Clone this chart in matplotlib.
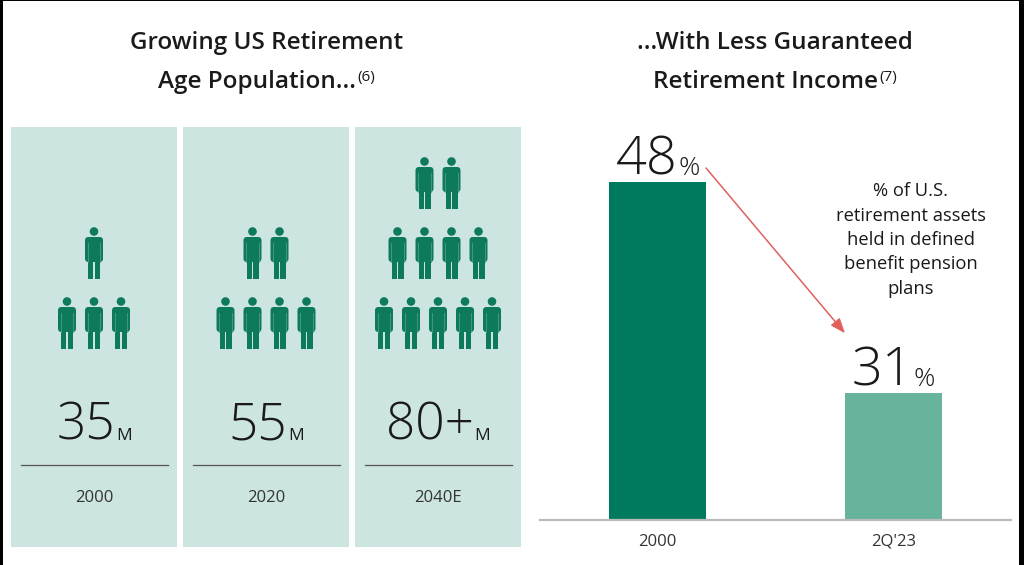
import matplotlib
matplotlib.use("Agg")
import matplotlib.pyplot as plt
from matplotlib import transforms
from matplotlib.patches import Rectangle, Circle, FancyBboxPatch

plt.rcParams['font.family'] = ['Open Sans', 'DejaVu Sans']

# --- data ---
years = ["2000", "2020", "2040E"]
pop_values = ["35", "55", "80+"]
people_rows = [[3, 1], [4, 2], [5, 4, 2]]   # icons per row, bottom row first

bar_labels = ["2000", "2Q'23"]
pct_values = [48, 31]
note = "% of U.S.\nretirement assets\nheld in defined\nbenefit pension\nplans"

# --- colours ---
panel_col = "#cde5e0"
icon_col = "#0d7a5c"
bar_cols = ["#007a5e", "#67b39c"]
arrow_col = "#e06060"
text_col = "#1a1a1a"
label_col = "#333333"

W, H = 1024, 565
fig = plt.figure(figsize=(W / 100, H / 100), dpi=100)
fig.patch.set_facecolor("white")
bg = fig.add_axes([0, 0, 1, 1])
bg.set_xlim(0, W)
bg.set_ylim(H, 0)
bg.axis("off")
renderer = fig.canvas.get_renderer()


def pair_text(ax, x, y, big, small, bsize, ssize, trans, dy=0, rise=0,
              bweight="normal", sweight="normal", gap=0):
    # big text followed by a smaller one, centred as a group on x
    t1 = ax.text(x, y, big, fontsize=bsize, ha="right", va="baseline",
                 fontweight=bweight, color=text_col, transform=trans)
    t2 = ax.text(x, y, small, fontsize=ssize, ha="left", va="baseline",
                 fontweight=sweight, color=text_col, transform=trans)
    w1 = t1.get_window_extent(renderer).width
    w2 = t2.get_window_extent(renderer).width
    shift = (w1 - w2) / 2 * 72 / fig.dpi
    t1.set_transform(transforms.offset_copy(trans, fig=fig, x=shift - gap / 2,
                                            y=dy, units="points"))
    t2.set_transform(transforms.offset_copy(trans, fig=fig, x=shift + gap / 2,
                                            y=dy + rise, units="points"))


def person(ax, cx, top):
    ax.add_patch(Circle((cx, top + 4.5), 4.3, color=icon_col, lw=0))
    ax.add_patch(FancyBboxPatch((cx - 9, top + 10), 18, 25,
                                boxstyle="round,pad=0,rounding_size=3.5",
                                color=icon_col, lw=0))
    ax.add_patch(Rectangle((cx - 6, top + 30), 5.4, 22, color=icon_col, lw=0))
    ax.add_patch(Rectangle((cx + 0.6, top + 30), 5.4, 22, color=icon_col, lw=0))
    for s in (-1, 1):
        ax.plot([cx + s * 6.3, cx + s * 6.3], [top + 16, top + 35],
                color="#4f9c86", lw=0.6)


# --- left: population panels ---
panel_left, panel_w, panel_gap = 11, 166, 6
row_tops = [297, 227, 157]
icon_step = 27
for i, year in enumerate(years):
    x0 = panel_left + i * (panel_w + panel_gap)
    cx = x0 + panel_w / 2
    bg.add_patch(Rectangle((x0, 127), panel_w, 420, color=panel_col, lw=0))
    for r, n in enumerate(people_rows[i]):
        for k in range(n):
            person(bg, cx + (k - (n - 1) / 2) * icon_step, row_tops[r])
    pair_text(bg, cx, 440, pop_values[i], "M", 37, 12.5, bg.transData,
              bweight="light", gap=0.5)
    bg.plot([cx - 73, cx + 74], [465, 465], color="#555555", lw=0.9)
    bg.text(cx, 502, year, fontsize=12, ha="center", va="baseline",
            color=label_col)

# titles
lcx = 266.5
rcx = 775
bg.text(lcx, 49, "Growing US Retirement", fontsize=17.5, fontweight="semibold",
        ha="center", va="baseline", color=text_col)
pair_text(bg, lcx, 88, "Age Population...", "(6)", 17.5, 11, bg.transData,
          rise=5, bweight="semibold", gap=1)
bg.text(rcx, 49, "...With Less Guaranteed", fontsize=17.5, fontweight="semibold",
        ha="center", va="baseline", color=text_col)
pair_text(bg, rcx, 88, "Retirement Income", "(7)", 17.5, 11, bg.transData,
          rise=5, bweight="semibold", gap=1)

# --- right: bar chart ---
ax = fig.add_axes([540 / W, (H - 520) / H, 471 / W, 393 / H])
ax.patch.set_alpha(0)
xs = list(range(len(pct_values)))
bar_w = 0.41
ax.bar(xs, pct_values, width=bar_w, color=bar_cols, zorder=2)
ax.set_xlim(-0.5, 1.5)
ax.set_ylim(20.77, 52.4)
for s in ("top", "left", "right"):
    ax.spines[s].set_visible(False)
ax.spines["bottom"].set_color("#bbbbbb")
ax.spines["bottom"].set_linewidth(1.6)
ax.set_yticks([])
ax.set_xticks(xs)
ax.set_xticklabels(bar_labels, fontsize=12, color=label_col)
ax.tick_params(axis="x", length=0, pad=10)

for x, v in zip(xs, pct_values):
    pair_text(ax, x, v, str(v), "%", 39, 19, ax.transData, dy=5,
              bweight="light", sweight="light", gap=0.5)

ax.annotate("", xy=(xs[1] - bar_w / 2, pct_values[1] + 4.8),
            xytext=(xs[0] + bar_w / 2, pct_values[0] + 1.1),
            arrowprops=dict(arrowstyle="-|>,head_length=0.9,head_width=0.35",
                            color=arrow_col, lw=1.1, shrinkA=0, shrinkB=0))
ax.text(1.075, 43.3, note, fontsize=13.2, ha="center", va="center",
        color=text_col, linespacing=1.45)

# screenshot frame edges
bg.add_patch(Rectangle((0, 0), 3, H, color="black", lw=0))
bg.add_patch(Rectangle((0, 0), W, 1.2, color="black", lw=0))
bg.add_patch(Rectangle((1019, 0), 5, H, color="black", lw=0))

fig.savefig("out.png", dpi=100, facecolor="white")
